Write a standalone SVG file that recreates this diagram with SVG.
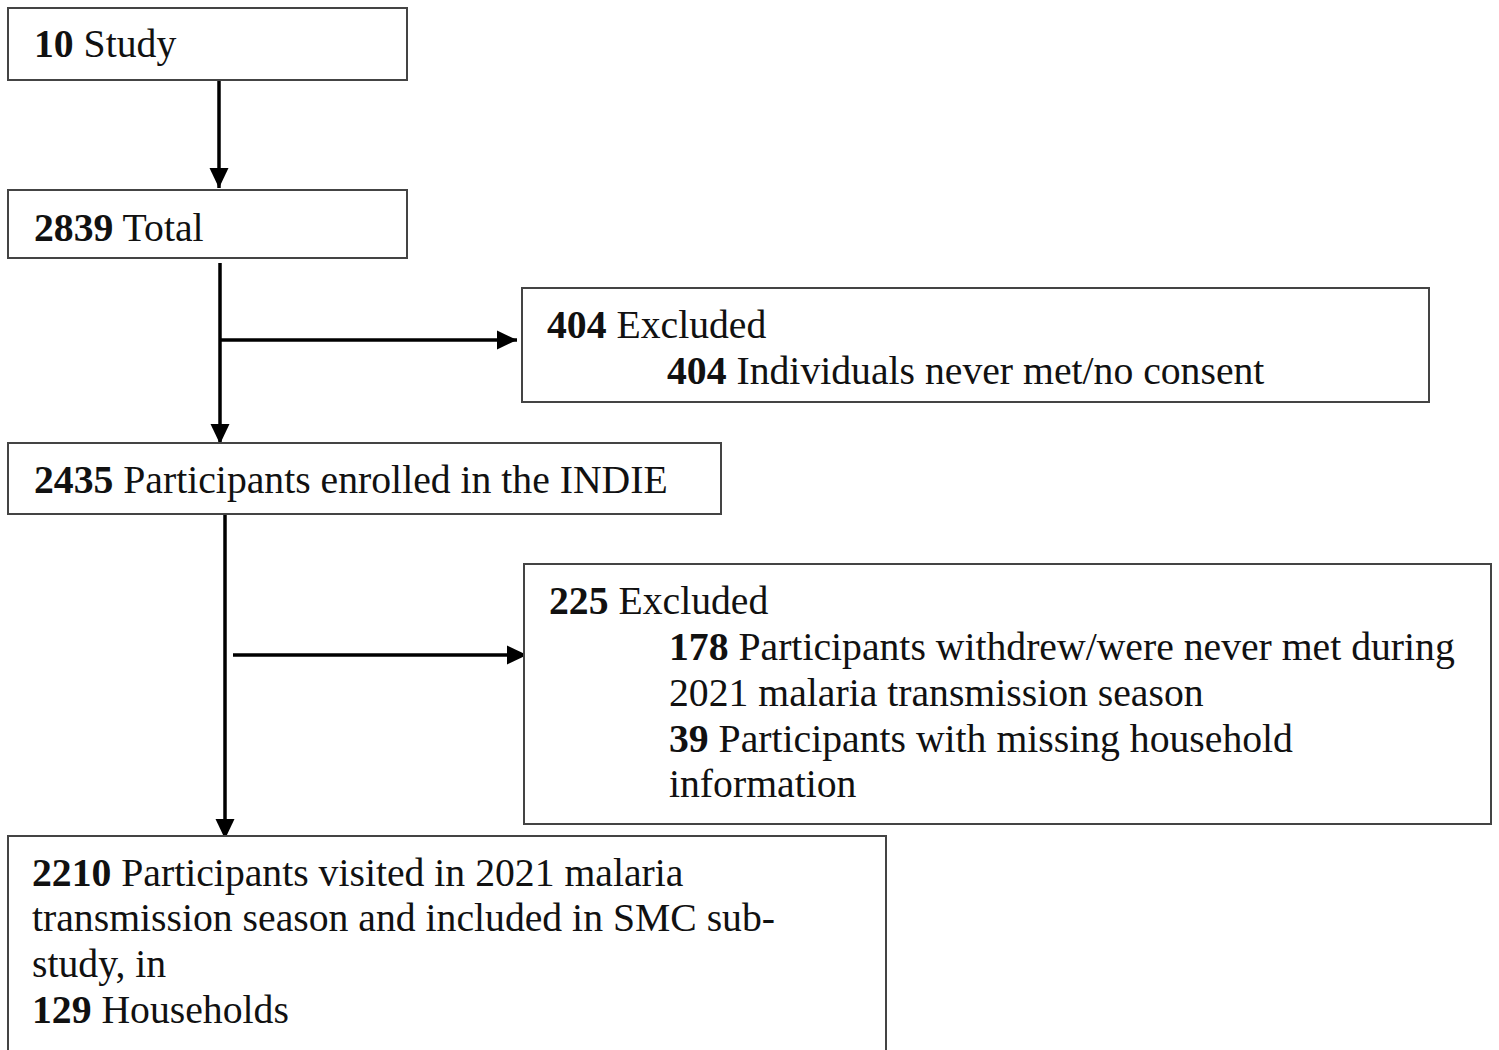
<svg xmlns="http://www.w3.org/2000/svg" width="1499" height="1050" viewBox="0 0 1499 1050">
<defs>
<marker id="arrow" viewBox="0 0 20 20" markerWidth="20" markerHeight="20" refX="20" refY="10" orient="auto" markerUnits="userSpaceOnUse">
<path d="M0,0.5 L20,10 L0,19.5 Z" fill="#000"/>
</marker>
</defs>
<style>
.box{fill:#fff;stroke:#444;stroke-width:2}
.t{font-family:"Liberation Serif","Times New Roman",serif;font-size:39.7px;fill:#111}
.b{font-weight:bold}
.c{stroke:#000;stroke-width:3.5;fill:none}
</style>
<rect width="1499" height="1050" fill="#fff"/>
<g id="connectors">
<line class="c" x1="219" y1="80" x2="219" y2="188" marker-end="url(#arrow)"/>
<line class="c" x1="220" y1="263" x2="220" y2="444" marker-end="url(#arrow)"/>
<line class="c" x1="220" y1="340" x2="517" y2="340" marker-end="url(#arrow)"/>
<line class="c" x1="225" y1="514" x2="225" y2="839" marker-end="url(#arrow)"/>
<line class="c" x1="233" y1="655" x2="527" y2="655" marker-end="url(#arrow)"/>
</g>
<g id="n1">
<rect class="box" x="8" y="8" width="399" height="72"/>
<text class="t" x="34" y="57"><tspan class="b">10</tspan> Study</text>
</g>
<g id="n2">
<rect class="box" x="8" y="190" width="399" height="68"/>
<text class="t" x="34" y="241"><tspan class="b">2839</tspan> Total</text>
</g>
<g id="n3">
<rect class="box" x="522" y="288" width="907" height="114"/>
<text class="t" x="547" y="338"><tspan class="b">404</tspan> Excluded</text>
<text class="t" x="667" y="384"><tspan class="b">404</tspan> Individuals never met/no consent</text>
</g>
<g id="n4">
<rect class="box" x="8" y="443" width="713" height="71"/>
<text class="t" x="34" y="493"><tspan class="b">2435</tspan> Participants enrolled in the INDIE</text>
</g>
<g id="n5">
<rect class="box" x="524" y="564" width="967" height="260"/>
<text class="t" x="549" y="614"><tspan class="b">225</tspan> Excluded</text>
<text class="t" x="669" y="660"><tspan class="b">178</tspan> Participants withdrew/were never met during</text>
<text class="t" x="669" y="706">2021 malaria transmission season</text>
<text class="t" x="669" y="752"><tspan class="b">39</tspan> Participants with missing household</text>
<text class="t" x="669" y="797">information</text>
</g>
<g id="n6">
<rect class="box" x="8" y="836" width="878" height="240"/>
<text class="t" x="32" y="886"><tspan class="b">2210</tspan> Participants visited in 2021 malaria</text>
<text class="t" x="32" y="931">transmission season and included in SMC sub-</text>
<text class="t" x="32" y="977">study, in</text>
<text class="t" x="32" y="1023"><tspan class="b">129</tspan> Households</text>
</g>
</svg>
